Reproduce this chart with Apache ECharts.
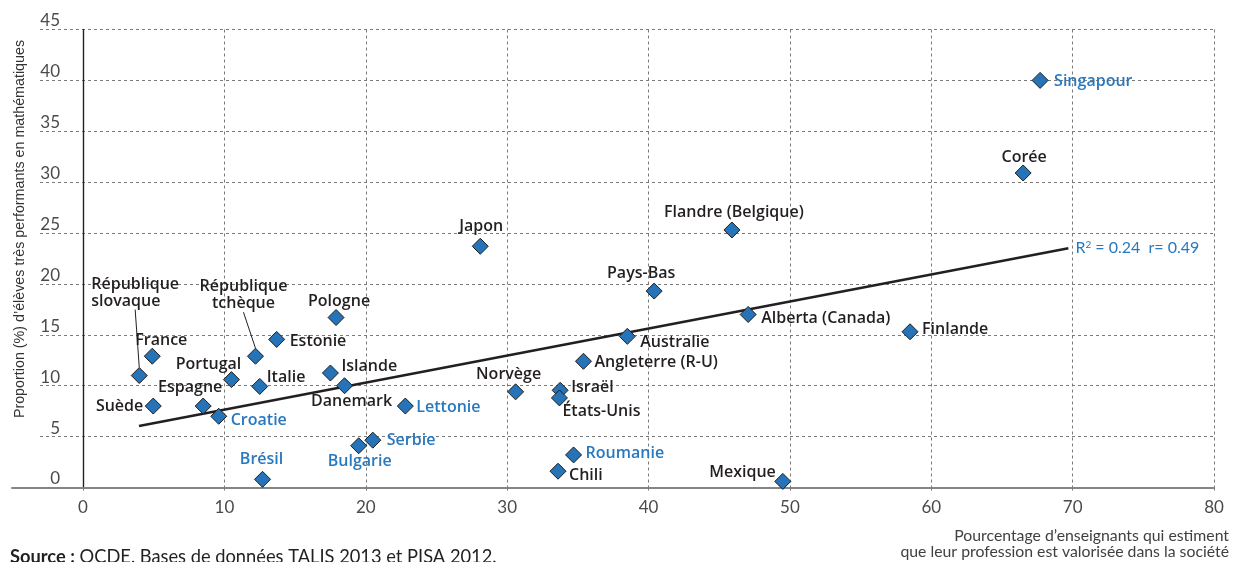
<!DOCTYPE html>
<html>
<head>
<meta charset="utf-8">
<script src="https://cdn.jsdelivr.net/npm/echarts@6/dist/echarts.min.js"></script>
<style>
html,body{margin:0;padding:0;background:#fff;}
#chart{width:1237px;height:562px;}
</style>
</head>
<body>
<div id="chart"></div>
<script>
// ---- Data ----
const countries = ['Singapour','Corée','Flandre (Belgique)','Japon','Pays-Bas','Alberta (Canada)','Finlande','Australie','Angleterre (R-U)','Norvège','Israël','États-Unis','Lettonie','Serbie','Bulgarie','Roumanie','Chili','Mexique','Brésil','Pologne','Estonie','République\ntchèque','France','République\nslovaque','Portugal','Italie','Islande','Danemark','Suède','Espagne','Croatie'];
const teachersValued = [67.7, 66.5, 45.9, 28.1, 40.4, 47.05, 58.5, 38.5, 35.4, 30.6, 33.75, 33.7, 22.8, 20.5, 19.5, 34.7, 33.6, 49.5, 12.7, 17.9, 13.7, 12.2, 4.9, 3.98, 10.5, 12.5, 17.5, 18.5, 4.97, 8.5, 9.6];
const topPerformers = [40.0, 30.9, 25.3, 23.7, 19.3, 17.0, 15.3, 14.85, 12.4, 9.4, 9.55, 8.8, 8.0, 4.65, 4.1, 3.2, 1.6, 0.6, 0.8, 16.7, 14.55, 12.9, 12.9, 11.0, 10.6, 9.93, 11.25, 10.0, 8.0, 8.0, 7.0];
const partnerCountries = ['Singapour','Lettonie','Serbie','Bulgarie','Roumanie','Brésil','Croatie'];
const trendX = [3.96, 69.7];
const trendY = [6.05, 23.5];
const rSquared = '0.24';
const rValue = '0.49';
const xTicks = [0, 10, 20, 30, 40, 50, 60, 70, 80];
const yTicks = [0, 5, 10, 15, 20, 25, 30, 35, 40, 45];

// ---- Label placement (style) ----
const labelOffsets = {
  'Singapour':[14,1,'left'], 'Corée':[1,-16,'center'], 'Flandre (Belgique)':[2,-18,'center'],
  'Japon':[1,-20,'center'], 'Pays-Bas':[-13,-18,'center'], 'Alberta (Canada)':[13,4,'left'],
  'Finlande':[12,-2,'left'], 'Australie':[13,6,'left'], 'Angleterre (R-U)':[11,1,'left'],
  'Norvège':[-7,-17,'center'], 'Israël':[11,-3,'left'], 'États-Unis':[3,14,'left'],
  'Lettonie':[11,1,'left'], 'Serbie':[14,0,'left'], 'Bulgarie':[1,16,'center'],
  'Roumanie':[12,-1,'left'], 'Chili':[11,4,'left'], 'Mexique':[-7,-9,'right'],
  'Brésil':[-1,-20,'center'], 'Pologne':[3,-16,'center'], 'Estonie':[13,2,'left'],
  'République\ntchèque':[-12,-61,'center'], 'France':[9,-16,'center'],
  'République\nslovaque':[-48,-83,'left'], 'Portugal':[-23,-15,'center'],
  'Italie':[7,-9,'left'], 'Islande':[11,-7,'left'], 'Danemark':[7,16,'center'],
  'Suède':[-10,0,'right'], 'Espagne':[-13,-19,'center'], 'Croatie':[12,4,'left']
};
const leaderLabels = ['République\ntchèque','République\nslovaque'];

const BLUE = '#2878BE';
const DARK = '#231F20';
const GRIDC = '#7a7a7a';
const FONT = 'Lato, "Open Sans", sans-serif';
const LFONT = '"Open Sans", Lato, sans-serif';

const scatterData = countries.map((c, i) => {
  const isPartner = partnerCountries.indexOf(c) >= 0;
  return {
    name: c,
    value: [teachersValued[i], topPerformers[i]],
    label: { color: isPartner ? BLUE : DARK },
    labelLine: { show: leaderLabels.indexOf(c) >= 0, lineStyle: { color: DARK, width: 1 } }
  };
});

const chart = echarts.init(document.getElementById('chart'), null, { renderer: 'canvas' });
const gridPos = { right: 23, top: 29.5, bottom: 74.5 };

chart.setOption({
  animation: false,
  backgroundColor: '#fff',
  grid: [
    Object.assign({ left: 83 }, gridPos),
    Object.assign({ left: 40 }, gridPos),
    Object.assign({ left: 12 }, gridPos)
  ],
  xAxis: [
    { gridIndex: 0, type: 'value', min: xTicks[0], max: xTicks[xTicks.length - 1], interval: 10,
      axisLine: { show: false },
      axisTick: { show: true, length: 6, lineStyle: { color: GRIDC, type: [3, 3], width: 1 } },
      axisLabel: { show: true, margin: 12, fontFamily: FONT, fontSize: 17, color: '#4a4a4a' },
      splitLine: { show: true, lineStyle: { color: GRIDC, type: [3, 3], width: 1 } } },
    { gridIndex: 1, type: 'value', min: 0, max: 1, position: 'bottom',
      axisLine: { show: true, lineStyle: { color: '#6d6d6d', width: 1.5 } },
      axisTick: { show: false }, axisLabel: { show: false }, splitLine: { show: false } },
    { gridIndex: 2, type: 'value', min: 0, max: 1, position: 'top',
      axisLine: { show: true, lineStyle: { color: '#858585', width: 2 } },
      axisTick: { show: false }, axisLabel: { show: false }, splitLine: { show: false } }
  ],
  yAxis: [
    { gridIndex: 0, type: 'value', min: yTicks[0], max: yTicks[yTicks.length - 1], interval: 5,
      axisLine: { show: true, onZero: false, lineStyle: { color: DARK, width: 1.2 } },
      axisTick: { show: false }, axisLabel: { show: false }, splitLine: { show: false } },
    { gridIndex: 0, type: 'value', min: 0, max: 45, position: 'right',
      axisLine: { show: true, lineStyle: { color: DARK, width: 1.2 } },
      axisTick: { show: false }, axisLabel: { show: false }, splitLine: { show: false } },
    { gridIndex: 1, type: 'value', min: yTicks[0], max: yTicks[yTicks.length - 1], interval: 5,
      axisLine: { show: false }, axisTick: { show: false },
      axisLabel: { show: true, inside: true, margin: 20, align: 'right', verticalAlign: 'bottom',
        fontFamily: FONT, fontSize: 17, color: '#4a4a4a' },
      splitLine: { show: true, lineStyle: { color: GRIDC, type: [3, 3], width: 1 } } },
    { gridIndex: 2, type: 'value', min: 0, max: 45, show: false }
  ],
  series: [
    {
      type: 'line', xAxisIndex: 0, yAxisIndex: 0,
      data: trendX.map((x, i) => [x, trendY[i]]),
      symbol: 'none', z: 3,
      lineStyle: { color: DARK, width: 2.5 },
      endLabel: { show: true, distance: 7, fontFamily: FONT, fontSize: 16, color: BLUE,
        formatter: 'R{s|2} = ' + rSquared + '  r= ' + rValue,
        rich: { s: { fontFamily: FONT, fontSize: 10, color: BLUE, verticalAlign: 'top', padding: [0, 0, 8, 0] } } }
    },
    {
      type: 'scatter', xAxisIndex: 0, yAxisIndex: 0, z: 4,
      data: scatterData,
      symbol: 'diamond', symbolSize: 16,
      itemStyle: { color: '#2673B8', borderColor: '#1e1e1e', borderWidth: 1, opacity: 1 },
      label: { show: true, position: 'inside', formatter: '{b}', fontFamily: LFONT, fontSize: 16,
        fontWeight: 600, lineHeight: 17 },
      labelLayout: function (p) {
        const o = labelOffsets[countries[p.dataIndex]] || [0, -16, 'center'];
        return { dx: o[0], dy: o[1], align: o[2], verticalAlign: 'middle' };
      }
    }
  ],
  graphic: [
    { type: 'text', x: 20, y: 229, rotation: Math.PI / 2,
      style: { text: 'Proportion (%) d’élèves très performants en mathématiques', align: 'center', verticalAlign: 'middle',
        font: '14.3px "Liberation Sans", Arial, sans-serif', fill: '#333' } },
    { type: 'text', x: 1229, y: 528,
      style: { text: 'Pourcentage d’enseignants qui estiment\nque leur profession est valorisée dans la société', align: 'right', verticalAlign: 'top',
        font: '15.8px Lato, sans-serif', lineHeight: 16, fill: '#404040' } },
    { type: 'text', x: 10, y: 557,
      style: { text: '{b|Source :} OCDE, Bases de données TALIS 2013 et PISA 2012.', verticalAlign: 'middle',
        font: '18.3px Lato, sans-serif', fill: DARK,
        rich: { b: { fontFamily: 'Lato', fontSize: 18.3, fontWeight: 'bold', fill: DARK } } } }
  ]
});
</script>
</body>
</html>
